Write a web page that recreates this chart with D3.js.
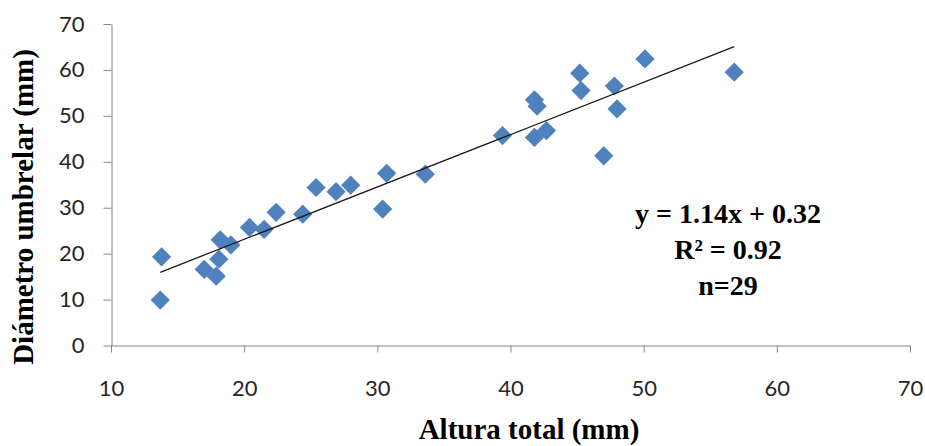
<!DOCTYPE html>
<html>
<head>
<meta charset="utf-8">
<script src="https://cdn.jsdelivr.net/npm/d3@7"></script>
<style>
  html, body { margin: 0; padding: 0; background: #fff; }
  svg { display: block; }
</style>
</head>
<body>
<svg id="chart" width="925" height="446"></svg>
<script>
// Altura total vs. diámetro umbrelar (mm), 29 individuals
const alturaTotal = [13.7, 13.8, 17.0, 17.9, 18.1, 18.2, 19.0, 20.4, 21.5, 22.4,
                     24.4, 25.4, 26.9, 28.0, 30.4, 30.7, 33.6, 39.4, 41.8, 42.0,
                     41.8, 42.7, 45.2, 45.3, 47.0, 47.8, 48.0, 50.1, 56.8];
const diametro    = [9.9, 19.3, 16.6, 15.1, 18.8, 23.0, 21.9, 25.7, 25.3, 29.0,
                     28.6, 34.4, 33.5, 34.9, 29.7, 37.5, 37.3, 45.7, 53.5, 52.1,
                     45.3, 46.8, 59.3, 55.5, 41.3, 56.5, 51.5, 62.4, 59.5];

// Linear fit as reported
const slope = 1.14;
const intercept = 0.32;
const r2 = 0.92;

const xTicks = [10, 20, 30, 40, 50, 60, 70];
const yTicks = [0, 10, 20, 30, 40, 50, 60, 70];

const fmt2 = d3.format(".2f");
const fitLines = [
  `y = ${slope.toFixed(2)}x + ${fmt2(intercept)}`,
  `R² = ${fmt2(r2)}`,
  `n=${alturaTotal.length}`
];

const svg = d3.select("#chart");

const x = d3.scaleLinear().domain([10, 70]).range([111, 910]);
const y = d3.scaleLinear().domain([0, 70]).range([345.5, 24]);

const axisColor = "#868686";
const tickFont = "Lato, 'Open Sans', sans-serif";
const titleFont = "'Liberation Serif', 'Times New Roman', serif";

// X axis
const gx = svg.append("g")
  .attr("transform", `translate(0,${y(0)})`)
  .call(d3.axisBottom(x).tickValues(xTicks).tickSize(7).tickPadding(28).tickSizeOuter(0));
gx.select(".domain").attr("stroke", axisColor);
gx.selectAll(".tick line").attr("stroke", axisColor);
gx.selectAll(".tick text")
  .attr("fill", "#262626")
  .style("font-family", tickFont)
  .style("font-size", "22px");

// Y axis
const gy = svg.append("g")
  .attr("transform", `translate(${x(10) + 0.5},0)`)
  .call(d3.axisLeft(y).tickValues(yTicks).tickSize(8).tickPadding(19).tickSizeOuter(0));
gy.select(".domain").attr("stroke", axisColor);
gy.selectAll(".tick line").attr("stroke", axisColor);
gy.selectAll(".tick text")
  .attr("fill", "#262626")
  .style("font-family", tickFont)
  .style("font-size", "22px");

// Data points (diamonds)
const pts = alturaTotal.map((a, i) => ({ a, d: diametro[i] }));
const diamond = d3.symbol().type(d3.symbolSquare).size(185);
svg.append("g")
  .selectAll("path")
  .data(pts)
  .join("path")
  .attr("d", diamond)
  .attr("transform", p => `translate(${x(p.a)},${y(p.d)}) rotate(45)`)
  .attr("fill", "#4F81BD");

// Trend line over the observed range
const [xMin, xMax] = d3.extent(alturaTotal);
const fit = v => slope * v + intercept;
svg.append("line")
  .attr("x1", x(xMin)).attr("y1", y(fit(xMin)))
  .attr("x2", x(xMax)).attr("y2", y(fit(xMax)))
  .attr("stroke", "#1a1a1a")
  .attr("stroke-width", 1.3);

// Fit annotation
svg.append("g")
  .selectAll("text")
  .data(fitLines)
  .join("text")
  .attr("x", 728)
  .attr("y", (d, i) => 223 + i * 36)
  .attr("text-anchor", "middle")
  .style("font-family", titleFont)
  .style("font-weight", "bold")
  .style("font-size", "28px")
  .attr("fill", "#000")
  .text(d => d);

// Axis titles
svg.append("text")
  .attr("x", 529)
  .attr("y", 439)
  .attr("text-anchor", "middle")
  .style("font-family", titleFont)
  .style("font-weight", "bold")
  .style("font-size", "29px")
  .text("Altura total (mm)");

svg.append("text")
  .attr("transform", "translate(33,207) rotate(-90)")
  .attr("text-anchor", "middle")
  .style("font-family", titleFont)
  .style("font-weight", "bold")
  .style("font-size", "29px")
  .text("Diámetro umbrelar (mm)");
</script>
</body>
</html>
